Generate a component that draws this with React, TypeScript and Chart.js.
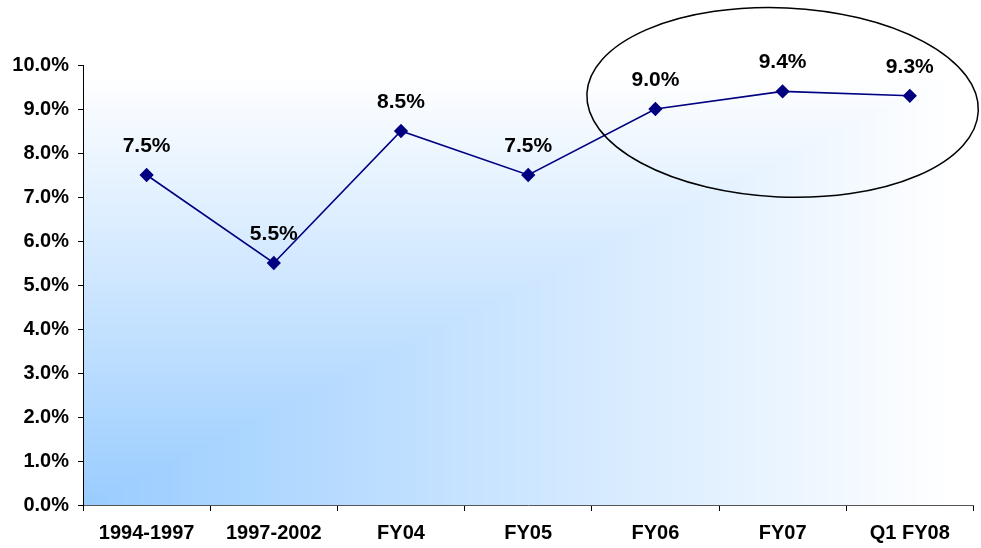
import React, { useEffect, useRef } from "react";
import { Chart, registerables } from "chart.js";

Chart.register(...registerables);

const categories: string[] = ["1994-1997", "1997-2002", "FY04", "FY05", "FY06", "FY07", "Q1 FY08"];
const growthValues: number[] = [7.5, 5.5, 8.5, 7.5, 9.0, 9.4, 9.3];
const yTickValues: number[] = [0, 1, 2, 3, 4, 5, 6, 7, 8, 9, 10];
// highlight ellipse around the last three periods, in data units
const ellipseCenterIndex = 5;
const ellipseCenterValue = 9.15;
const ellipseRadiusCategories = 1.54;
const ellipseRadiusValue = 2.15;

const FONT = "'Liberation Sans', Arial, sans-serif";

const gradientPlugin = {
  id: "cornerGradient",
  beforeDraw(chart: any) {
    const { ctx, chartArea } = chart;
    const { left, right, top, bottom } = chartArea;
    const W = right - left;
    const H = bottom - top;
    const c0 = [153, 204, 255];
    const c1 = [255, 255, 255];
    const N = 220;
    ctx.save();
    for (let k = N; k >= 1; k--) {
      const s = k / N;
      const t = Math.min(1, s / 0.98);
      const r = Math.round(c0[0] + (c1[0] - c0[0]) * t);
      const g = Math.round(c0[1] + (c1[1] - c0[1]) * t);
      const b = Math.round(c0[2] + (c1[2] - c0[2]) * t);
      ctx.fillStyle = `rgb(${r},${g},${b})`;
      ctx.fillRect(left, bottom - s * H, s * W, s * H);
    }
    ctx.restore();
  },
};

const labelPlugin = {
  id: "pointLabels",
  afterDatasetsDraw(chart: any) {
    const { ctx } = chart;
    const meta = chart.getDatasetMeta(0);
    const data = chart.data.datasets[0].data as number[];
    ctx.save();
    ctx.font = `bold 21px ${FONT}`;
    ctx.fillStyle = "#000000";
    ctx.textAlign = "center";
    ctx.textBaseline = "middle";
    meta.data.forEach((pt: any, i: number) => {
      ctx.fillText(data[i].toFixed(1) + "%", pt.x, pt.y - 29);
    });
    ctx.restore();
  },
};

const ellipsePlugin = {
  id: "highlightEllipse",
  afterDraw(chart: any) {
    const { ctx } = chart;
    const xs = chart.scales.x;
    const ys = chart.scales.y;
    const cx = xs.getPixelForValue(ellipseCenterIndex);
    const cy = ys.getPixelForValue(ellipseCenterValue);
    const rx = (xs.getPixelForValue(1) - xs.getPixelForValue(0)) * ellipseRadiusCategories;
    const ry = ys.getPixelForValue(0) - ys.getPixelForValue(ellipseRadiusValue);
    ctx.save();
    ctx.beginPath();
    ctx.ellipse(cx, cy, rx, ry, 0.045, 0, Math.PI * 2);
    ctx.strokeStyle = "#000000";
    ctx.lineWidth = 1.5;
    ctx.stroke();
    ctx.restore();
  },
};

export default function App() {
  const canvasRef = useRef<HTMLCanvasElement | null>(null);

  useEffect(() => {
    if (!canvasRef.current) return;
    const chart = new Chart(canvasRef.current, {
      type: "line",
      data: {
        labels: categories,
        datasets: [
          {
            data: growthValues,
            borderColor: "#000080",
            backgroundColor: "#000080",
            borderWidth: 1.6,
            pointStyle: "rectRot",
            pointRadius: 6,
            pointHoverRadius: 6,
            pointBackgroundColor: "#000080",
            pointBorderColor: "#000080",
            tension: 0,
            fill: false,
          },
        ],
      },
      options: {
        animation: false,
        responsive: false,
        maintainAspectRatio: false,
        events: [],
        layout: { padding: { top: 65, right: 2, left: 0, bottom: 0 } },
        plugins: {
          legend: { display: false },
          tooltip: { enabled: false },
          title: { display: false },
        },
        scales: {
          x: {
            offset: true,
            grid: {
              offset: true,
              display: true,
              drawOnChartArea: false,
              drawTicks: true,
              tickLength: 6,
              color: "#000000",
            },
            border: { display: true, color: "#555555", width: 1 },
            ticks: {
              color: "#000000",
              font: { family: FONT, size: 20, weight: "bold" },
              padding: 10,
              maxRotation: 0,
              autoSkip: false,
            },
            afterFit(scale: any) {
              scale.height = 43;
              scale.paddingLeft = 0;
              scale.paddingRight = 0;
            },
          },
          y: {
            min: 0,
            max: 10,
            afterBuildTicks(scale: any) {
              scale.ticks = yTickValues.map((v) => ({ value: v }));
            },
            grid: {
              display: true,
              drawOnChartArea: false,
              drawTicks: true,
              tickLength: 5,
              color: "#000000",
            },
            border: { display: true, color: "#000000", width: 1 },
            ticks: {
              color: "#000000",
              font: { family: FONT, size: 20, weight: "bold" },
              padding: 9,
              callback: (v: any) => Number(v).toFixed(1) + "%",
            },
            afterFit(scale: any) {
              scale.width = 83;
            },
          },
        },
      } as any,
      plugins: [gradientPlugin, labelPlugin, ellipsePlugin],
    });
    return () => chart.destroy();
  }, []);

  return (
    <div style={{ position: "absolute", left: 0, top: 0, width: 981, height: 548, background: "#ffffff" }}>
      <canvas ref={canvasRef} width={981} height={548} style={{ width: 981, height: 548 }} />
    </div>
  );
}
